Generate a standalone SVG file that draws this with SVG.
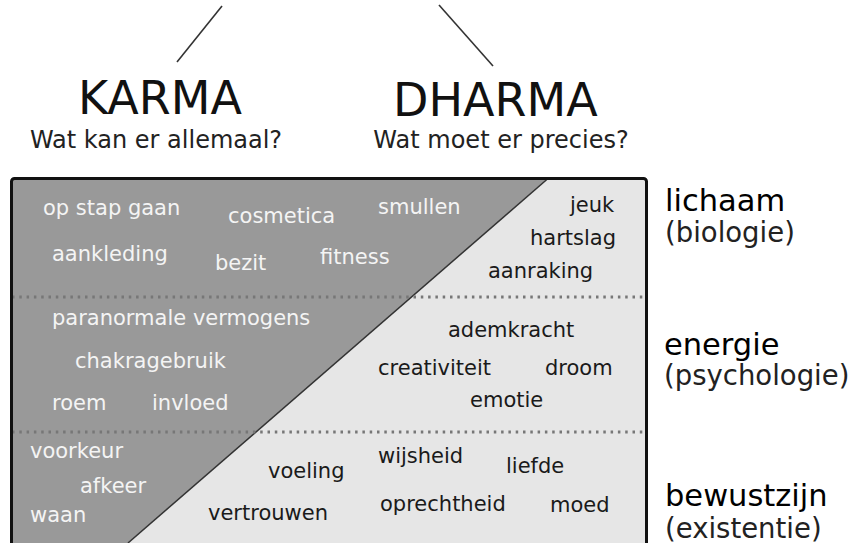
<svg xmlns="http://www.w3.org/2000/svg" width="862" height="543" viewBox="0 0 862 543">
<style>
text{font-family:"DejaVu Sans",Verdana,sans-serif}
.head{font-size:46px;fill:#111}
.sub{font-size:24px;fill:#222;text-anchor:middle}
.dk{font-size:21px;fill:#f4f4f4}
.lt{font-size:21px;fill:#1a1a1a}
.lvl{font-size:30.5px;fill:#000}
.lvs{font-size:27.5px;fill:#222}
.dot{stroke:#777;stroke-width:3;stroke-dasharray:2.5 4.8;fill:none}
.conn{stroke:#333;stroke-width:1.6;fill:none}
</style>
<rect width="862" height="543" fill="#fff"/>
<g id="connectors">
<line class="conn" x1="222" y1="6" x2="177" y2="62"/>
<line class="conn" x1="439" y1="5" x2="493" y2="66"/>
</g>
<g id="karma">
<text class="head" x="78" y="114">KARMA</text>
<text class="sub" x="156" y="148">Wat kan er allemaal?</text>
</g>
<g id="dharma">
<text class="head" x="393" y="116">DHARMA</text>
<text class="sub" x="501" y="148">Wat moet er precies?</text>
</g>
<g id="table">
<rect x="11.5" y="178.5" width="635" height="400" fill="#e6e6e6"/>
<polygon points="11.5,178.5 548,178.5 128,543 11.5,543" fill="#999"/>
<line x1="548" y1="178.5" x2="128" y2="543" stroke="#333" stroke-width="1.5"/>
<line class="dot" x1="12" y1="297" x2="646" y2="297"/>
<line class="dot" x1="12" y1="432" x2="646" y2="432"/>
<rect x="11.5" y="178.5" width="635" height="400" rx="3" fill="none" stroke="#111" stroke-width="3"/>
</g>
<g id="karma-items">
<text class="dk" x="43" y="215">op stap gaan</text>
<text class="dk" x="228" y="223">cosmetica</text>
<text class="dk" x="378" y="214">smullen</text>
<text class="dk" x="52" y="261">aankleding</text>
<text class="dk" x="215" y="270">bezit</text>
<text class="dk" x="320" y="264">fitness</text>
<text class="dk" x="52" y="325">paranormale vermogens</text>
<text class="dk" x="75" y="368">chakragebruik</text>
<text class="dk" x="52" y="410">roem</text>
<text class="dk" x="152" y="410">invloed</text>
<text class="dk" x="30" y="458">voorkeur</text>
<text class="dk" x="80" y="493">afkeer</text>
<text class="dk" x="30" y="522">waan</text>
</g>
<g id="dharma-items">
<text class="lt" x="570" y="212">jeuk</text>
<text class="lt" x="530" y="245">hartslag</text>
<text class="lt" x="488" y="278">aanraking</text>
<text class="lt" x="448" y="337">ademkracht</text>
<text class="lt" x="378" y="375">creativiteit</text>
<text class="lt" x="545" y="375">droom</text>
<text class="lt" x="470" y="407">emotie</text>
<text class="lt" x="378" y="463">wijsheid</text>
<text class="lt" x="506" y="473">liefde</text>
<text class="lt" x="268" y="478">voeling</text>
<text class="lt" x="380" y="511">oprechtheid</text>
<text class="lt" x="550" y="512">moed</text>
<text class="lt" x="208" y="520">vertrouwen</text>
</g>
<g id="level-lichaam">
<text class="lvl" x="665" y="211">lichaam</text>
<text class="lvs" x="665" y="242">(biologie)</text>
</g>
<g id="level-energie">
<text class="lvl" x="664" y="355">energie</text>
<text class="lvs" x="664" y="385">(psychologie)</text>
</g>
<g id="level-bewustzijn">
<text class="lvl" x="665" y="506">bewustzijn</text>
<text class="lvs" x="665" y="538" font-size="26.5">(existentie)</text>
</g>
</svg>
